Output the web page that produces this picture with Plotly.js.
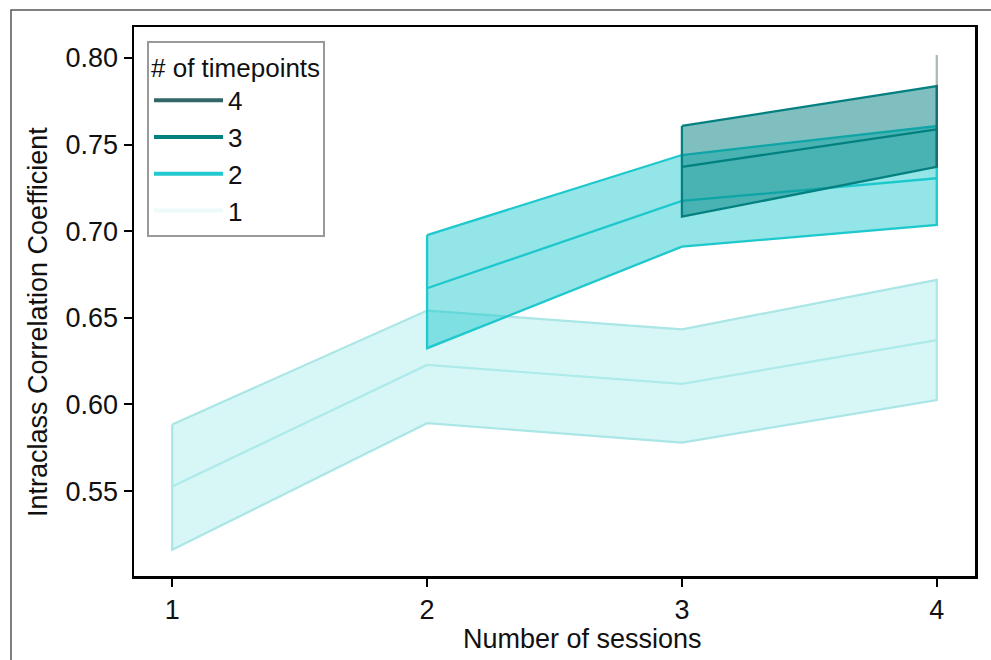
<!DOCTYPE html>
<html>
<head>
<meta charset="utf-8">
<script src="https://cdn.plot.ly/plotly-3.0.1.min.js"></script>
<style>
html,body{margin:0;padding:0;background:#fff;}
#chart{width:991px;height:660px;}
</style>
</head>
<body>
<div id="chart"></div>
<script>
// ---- data ----
const sessions1 = [1, 2, 3, 4];
const tp1Mean  = [0.5527, 0.6228, 0.6119, 0.6372];
const tp1Upper = [0.5885, 0.6542, 0.6434, 0.6719];
const tp1Lower = [0.5161, 0.5892, 0.5780, 0.6026];

const sessions2 = [2, 3, 4];
const tp2Mean  = [0.6671, 0.7175, 0.7306];
const tp2Upper = [0.6978, 0.7440, 0.7607];
const tp2Lower = [0.6325, 0.6911, 0.7036];

const sessions3 = [3, 4];
const tp3Mean  = [0.7372, 0.7588];
const tp3Upper = [0.7608, 0.7838];
const tp3Lower = [0.7084, 0.7372];

const sessions4 = [4];
const tp4Mean  = [0.7700];
const tp4Upper = [0.8017];
const tp4Lower = [0.7372];

const legendLabels = ["1", "2", "3", "4"];
const xTicks = [1, 2, 3, 4];
const yTicks = [0.55, 0.60, 0.65, 0.70, 0.75, 0.80];
const xTitle = "Number of sessions";
const yTitle = "Intraclass Correlation Coefficient";
const legendTitle = "# of timepoints";

// ---- styles ----
const styles = [
  {line: "rgb(170,230,230)", fill: "rgba(175,238,238,0.5)", mean: "rgb(170,230,230)", lw: 2.2, legend: "#eefafa"},
  {line: "rgb(30,200,205)", fill: "rgba(30,200,205,0.48)", mean: "rgb(30,200,205)", lw: 2.3, legend: "#22c9cf"},
  {line: "rgb(5,128,128)", fill: "rgba(0,128,128,0.5)", mean: "rgb(5,128,128)", lw: 2.3, legend: "#008080"},
  {line: "rgba(47,79,79,0.4)", fill: "rgba(47,79,79,0.4)", mean: "rgba(47,79,79,0.8)", lw: 2.3, legend: "#336666"}
];

const groups = [
  {x: sessions1, m: tp1Mean, u: tp1Upper, l: tp1Lower},
  {x: sessions2, m: tp2Mean, u: tp2Upper, l: tp2Lower},
  {x: sessions3, m: tp3Mean, u: tp3Upper, l: tp3Lower},
  {x: sessions4, m: tp4Mean, u: tp4Upper, l: tp4Lower}
];

const traces = [];
groups.forEach((g, i) => {
  const s = styles[i];
  if (g.x.length > 1) {
    traces.push({x: g.x, y: g.m, type: "scatter", mode: "lines",
      line: {color: s.mean, width: s.lw}, showlegend: false, hoverinfo: "skip"});
  }
  const px = g.x.concat(g.x.slice().reverse(), [g.x[0]]);
  const py = g.u.concat(g.l.slice().reverse(), [g.u[0]]);
  traces.push({x: px, y: py, type: "scatter", mode: "lines",
    fill: g.x.length > 1 ? "toself" : "none", fillcolor: s.fill,
    line: {color: s.line, width: s.lw}, showlegend: false, hoverinfo: "skip"});
});

for (let i = 3; i >= 0; i--) {
  traces.push({x: [null], y: [null], type: "scatter", mode: "lines",
    name: legendLabels[i], legendgroup: "g" + i,
    line: {color: styles[i].legend, width: 4}, showlegend: true});
}

const fontFam = "Liberation Sans, Arial, sans-serif";
const FS = 27;
const txt = {family: fontFam, size: FS, color: "#111"};
const legTxt = {family: fontFam, size: 26, color: "#111"};
const pl = 134, pr = 16, pt = 27, pb = 84;
const pw = 991 - pl - pr, ph = 660 - pt - pb;
const fx = v => (v - pl) / pw;
const fy = v => (660 - pb - v) / ph;

const layout = {
  width: 991, height: 660,
  margin: {l: pl, r: pr, t: pt, b: pb, pad: 0},
  paper_bgcolor: "#fff", plot_bgcolor: "#fff",
  font: txt,
  showlegend: true,
  legend: {
    x: fx(147), y: fy(41), xanchor: "left", yanchor: "top",
    bgcolor: "#fff", bordercolor: "#999", borderwidth: 2,
    font: legTxt,
    title: {text: legendTitle, font: legTxt},
    traceorder: "normal", tracegroupgap: 0, itemwidth: 69
  },
  xaxis: {
    range: [0.85, 4.15], tickvals: xTicks, ticktext: xTicks.map(String),
    showline: true, mirror: true, linecolor: "#000", linewidth: 2.5,
    ticks: "outside", ticklen: 8, tickwidth: 2, tickcolor: "#000",
    showgrid: false, zeroline: false,
    tickfont: txt, automargin: false
  },
  yaxis: {
    range: [0.5010, 0.8179], tickvals: yTicks, ticktext: yTicks.map(v => v.toFixed(2)),
    showline: true, mirror: true, linecolor: "#000", linewidth: 2.5,
    ticks: "outside", ticklen: 8, tickwidth: 2, tickcolor: "#000",
    showgrid: false, zeroline: false,
    tickfont: txt, automargin: false
  },
  annotations: [
    {text: xTitle, xref: "paper", yref: "paper", x: fx(582), y: fy(639),
     xanchor: "center", yanchor: "middle", showarrow: false, font: txt},
    {text: yTitle, xref: "paper", yref: "paper", x: fx(38), y: fy(322),
     xanchor: "center", yanchor: "middle", showarrow: false, textangle: -90, font: txt}
  ],
  shapes: [{
    type: "path", xref: "paper", yref: "paper", layer: "below",
    path: "M " + fx(1005) + "," + fy(10) + " L " + fx(11) + "," + fy(10) + " L " + fx(11) + "," + fy(680),
    line: {color: "#555", width: 1.5}
  }]
};

Plotly.newPlot("chart", traces, layout, {displayModeBar: false, staticPlot: true});
</script>
</body>
</html>
